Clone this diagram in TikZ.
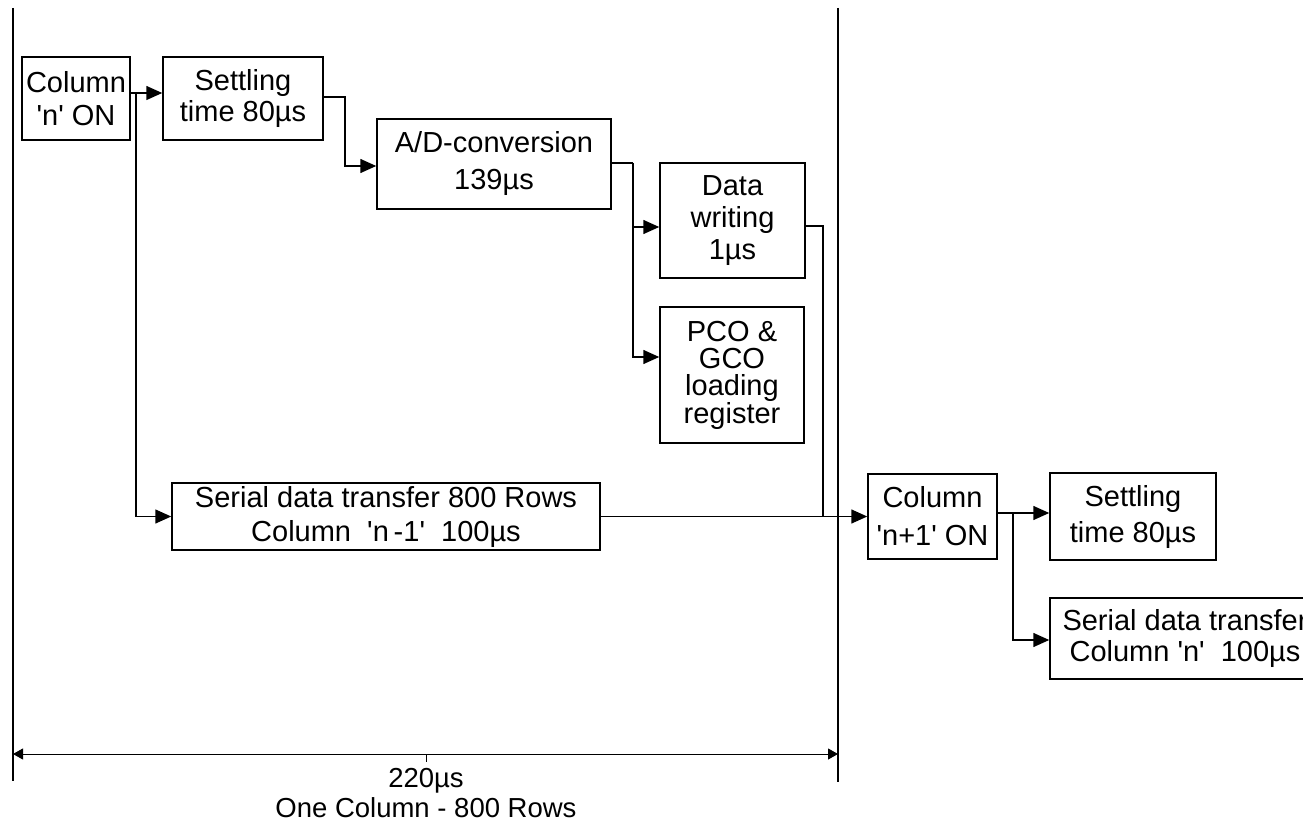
\documentclass[tikz,border=0pt]{standalone}
\usepackage{fontspec}
\setmainfont{Liberation Sans}
\usetikzlibrary{arrows.meta}
\newcommand\sq{\textquotesingle}
\tikzset{
  blk/.style={draw, line width=1.5pt, rectangle, inner sep=0pt, align=center,
    font=\fontsize{29}{#1}\selectfont},
  blk/.default=32,
  arr/.style={line width=1.5pt, -{Triangle[length=16pt,width=14pt]}},
  ln/.style={line width=1.5pt},
  bound/.style={line width=2pt},
  dim/.style={line width=1pt, {Triangle[length=10pt,width=11pt]}-{Triangle[length=10pt,width=11pt]}},
  lbl/.style={font=\fontsize{27.5}{30}\selectfont, inner sep=0pt, anchor=base}
}
\begin{document}
\begin{tikzpicture}[x=1pt,y=-1pt]
\clip (0,0) rectangle (1303,826);
\useasboundingbox (0,0) rectangle (1303,826);
% boundary lines
\coordinate (L1) at (13,8);
\coordinate (L2) at (13,781);
\coordinate (R1) at (838,8);
\coordinate (R2) at (838,782);
\draw[bound] (L1) -- (L2);
\draw[bound] (R1) -- (R2);
\coordinate (DL) at (13,754);
\coordinate (DR) at (838,754);
\coordinate (DM) at (426,754);
\coordinate (DT) at (426,762);
\draw[dim] (DL) -- (DR);
\draw[line width=1pt] (DM) -- (DT);
\node[lbl] (t220) at (426,787) {220µs};
\node[lbl] (tone) at (426,817) {One Column - 800 Rows};
% boxes
\node[blk=33, minimum width=108pt, minimum height=83pt] (colN) at (76,98.5) {Column\\\sq n\sq{} ON};
\node[blk=31, minimum width=160pt, minimum height=83pt] (set1) at (243,98.5) {Settling\\time 80µs};
\node[blk=37, minimum width=234pt, minimum height=90pt] (ad) at (494,164) {A/D-conversion\\139µs};
\node[blk=32, minimum width=145pt, minimum height=115pt] (dw) at (732.5,220.5) {Data\\writing\\1µs};
\node[blk=27, minimum width=144pt, minimum height=136pt] (pco) at (732,375) {PCO \&\\GCO\\loading\\register};
\node[blk=34, minimum width=428pt, minimum height=67pt] (ser1) at (386,516.5) {Serial data transfer 800 Rows\\Column\ \ \sq n\,-1\sq\ \ 100µs};
\node[blk=38, minimum width=129pt, minimum height=85pt] (colN1) at (932.5,516.5) {Column\\\sq n+1\sq{} ON};
\node[blk=36, minimum width=166pt, minimum height=87pt] (set2) at (1133,516.5) {Settling\\time 80µs};
\node[blk=31, minimum width=270pt, minimum height=81pt] (ser2) at (1185,638.5) {Serial data transfer\\Column \sq n\sq\ \ 100µs};
% connectors
\draw[arr] ([yshift=5.5pt]colN.east) -- ([yshift=5.5pt]set1.west);
\coordinate (b1) at (136,93);
\draw[arr] (b1) |- (ser1.west);
\draw[arr] ([yshift=1.5pt]set1.east) -- (345,97) |- ([yshift=-2pt]ad.west);
\coordinate (j1) at (633,163);
\draw[ln] ([yshift=1pt]ad.east) -- (j1);
\draw[arr] (j1) |- ([yshift=-6.5pt]dw.west);
\draw[arr] (j1) |- ([yshift=18pt]pco.west);
\coordinate (m) at (823,516.5);
\draw[ln] ([yshift=-5.5pt]dw.east) -| (m);
\draw[arr] (ser1.east) -- (colN1.west);
\draw[arr] ([yshift=3.5pt]colN1.east) -- ([yshift=3.5pt]set2.west);
\coordinate (b2) at (1013,513);
\draw[arr] (b2) |- ([yshift=-1.5pt]ser2.west);
\end{tikzpicture}
\end{document}
